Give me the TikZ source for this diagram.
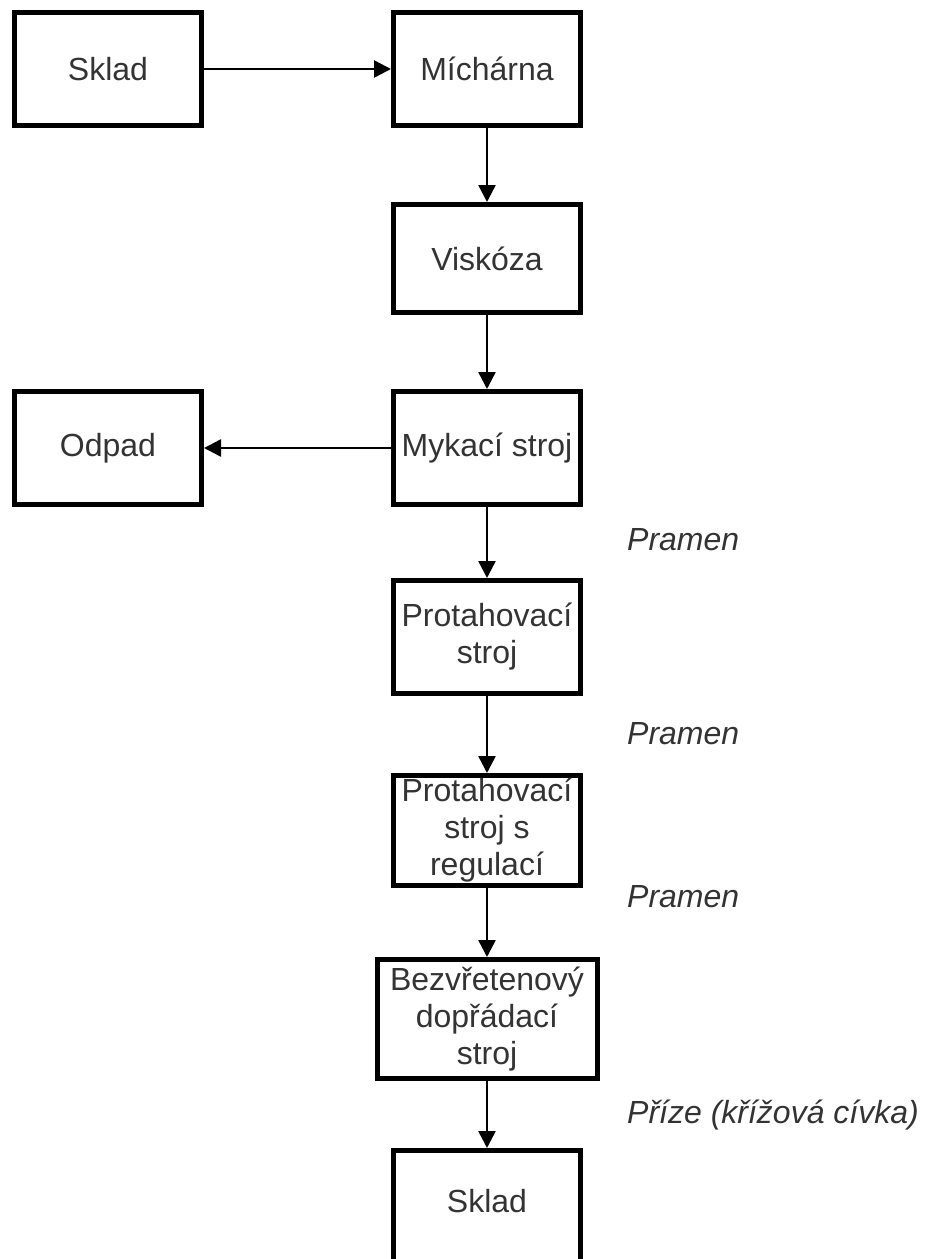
\documentclass[tikz,border=0pt]{standalone}
\usepackage{fontspec}
\setmainfont{Liberation Sans}
\usetikzlibrary{arrows.meta}
\begin{document}
\begin{tikzpicture}[x=1pt,y=-1pt,
  box/.style={draw=black, line width=5pt, rectangle, text=black!80,
    font=\fontsize{32}{37}\selectfont, align=center, inner sep=0pt},
  flow/.style={line width=2.5pt, -{Triangle[length=17pt,width=17pt]}},
  lbl/.style={font=\fontsize{32}{37}\selectfont\itshape, text=black!80,
    anchor=west, inner sep=0pt}]
\useasboundingbox (0,0) rectangle (925,1259);
\clip (0,0) rectangle (925,1259);
\node[box, minimum width=187pt, minimum height=113pt] (sklad1) at (108,69) {Sklad};
\node[box, minimum width=187pt, minimum height=113pt] (michar) at (487,69) {Míchárna};
\node[box, minimum width=187pt, minimum height=108pt] (visk) at (487,258.5) {Viskóza};
\node[box, minimum width=187pt, minimum height=113pt] (odpad) at (108,448) {Odpad};
\node[box, minimum width=187pt, minimum height=113pt] (myk) at (487,448) {Mykací stroj};
\node[box, minimum width=187pt, minimum height=113pt] (prot) at (487,637) {Protahovací\\stroj};
\node[box, minimum width=187pt, minimum height=110pt] (reg) at (487,830.5) {Protahovací\\stroj s\\regulací};
\node[box, minimum width=220pt, minimum height=119pt] (bez) at (487,1019) {Bezvřetenový\\dopřádací\\stroj};
\node[box, minimum width=187pt, minimum height=137pt] (sklad2) at (487,1219) {};
\node[text=black!80, font=\fontsize{32}{37}\selectfont, inner sep=0pt] (sklad2t) at (487,1201) {Sklad};

\draw[flow] (sklad1) -- (michar);
\draw[flow] (michar) -- (visk);
\draw[flow] (visk) -- (myk);
\draw[flow] (myk) -- (odpad);
\draw[flow] (myk) -- (prot);
\draw[flow] (prot) -- (reg);
\draw[flow] (reg) -- (bez);
\draw[flow] (bez) -- (sklad2);

\node[lbl] (l1) at (627,540) {Pramen};
\node[lbl] (l2) at (627,734) {Pramen};
\node[lbl] (l3) at (627,897) {Pramen};
\node[lbl] (l4) at (627,1115) {Příze (křížová cívka)};
\end{tikzpicture}
\end{document}
